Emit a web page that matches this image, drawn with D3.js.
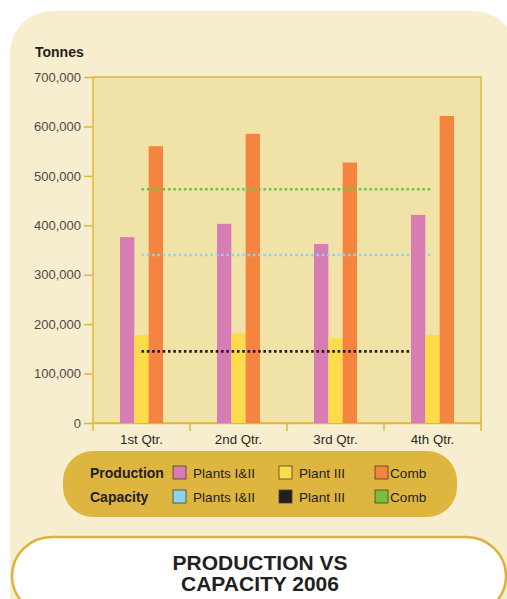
<!DOCTYPE html>
<html>
<head>
<meta charset="utf-8">
<script src="https://cdn.jsdelivr.net/npm/d3@7"></script>
<style>
  body { margin: 0; background: #fff; }
  svg { display: block; font-family: "Liberation Sans", Arial, sans-serif; }
</style>
</head>
<body>
<svg class="chart"></svg>
<script>
// Data
var quarters = ["1st Qtr.", "2nd Qtr.", "3rd Qtr.", "4th Qtr."];
var series = ["Plants I&II", "Plant III", "Comb"];
var prodPlants12 = [376000, 403000, 362000, 421000];
var prodPlant3 = [178000, 182000, 172000, 178000];
var prodComb = [560000, 585000, 527000, 621000];
var capValues = [340000, 145000, 473000];   // Plants I&II, Plant III, Comb
var yTicks = [0, 100000, 200000, 300000, 400000, 500000, 600000, 700000];

var prodColors = ["#d77db4", "#fddc4c", "#f4843f"];
var capColors = ["#8dd4ee", "#231f20", "#79bf3f"];

var W = 507, H = 599;
var margin = {top: 77, right: 26, bottom: 176, left: 93},
  width = W - margin.left - margin.right,
  height = H - margin.top - margin.bottom;

var svg = d3.select(".chart").attr("width", W).attr("height", H);

// outer cream panel
svg.append("rect")
  .attr("x", 10).attr("y", 11)
  .attr("width", 506).attr("height", 680)
  .attr("rx", 42)
  .attr("fill", "#f6eece");

var body = svg.append("g")
  .attr("transform", "translate(" + margin.left + "," + margin.top + ")");

var x0 = d3.scaleBand().domain(quarters).range([0, width]).padding(0);
var x1 = d3.scaleBand().domain(series)
  .range([(x0.bandwidth() - 43) / 2, (x0.bandwidth() + 43) / 2]);
var y = d3.scaleLinear().domain([0, 700000]).range([height, 0]);

// plot background
body.append("rect")
  .attr("width", width).attr("height", height)
  .attr("fill", "#f1e2a8")
  .attr("stroke", "#e2b63c").attr("stroke-width", 1.5);

// y axis
var yAxis = body.append("g")
  .call(d3.axisLeft(y).tickValues(yTicks).tickSize(9).tickPadding(3)
    .tickFormat(d3.format(",")));
yAxis.select(".domain").remove();
yAxis.selectAll(".tick line").attr("stroke", "#e2b63c").attr("stroke-width", 1.5);
yAxis.selectAll(".tick text")
  .attr("fill", "#4d4a45").style("font-size", "13px");

// x axis
var xAxis = body.append("g")
  .attr("transform", "translate(0," + height + ")")
  .call(d3.axisBottom(x0).tickSize(0).tickPadding(12));
xAxis.select(".domain").attr("stroke", "#e2b63c").attr("stroke-width", 1.5);
xAxis.selectAll(".tick text").attr("fill", "#2b2727").style("font-size", "13.3px");
// boundary ticks between categories
body.append("g").selectAll("line")
  .data(d3.range(quarters.length + 1))
  .join("line")
  .attr("x1", function(i) { return i * x0.bandwidth(); })
  .attr("x2", function(i) { return i * x0.bandwidth(); })
  .attr("y1", height).attr("y2", height + 8)
  .attr("stroke", "#e2b63c").attr("stroke-width", 1.5);

// build rows for the bars
var rows = quarters.map(function(q, i) {
  return {q: q, vals: [prodPlants12[i], prodPlant3[i], prodComb[i]]};
});

var groups = body.selectAll("g.qtr")
  .data(rows)
  .join("g")
  .attr("class", "qtr")
  .attr("transform", function(d) { return "translate(" + x0(d.q) + ",0)"; });

groups.selectAll("rect")
  .data(function(d) { return d.vals.map(function(v, j) { return {s: series[j], v: v, j: j}; }); })
  .join("rect")
  .attr("x", function(d) { return x1(d.s); })
  .attr("width", x1.bandwidth())
  .attr("y", function(d) { return y(d.v); })
  .attr("height", function(d) { return height - y(d.v); })
  .attr("fill", function(d) { return prodColors[d.j]; });

// capacity lines from first to last quarter centre
var cx0 = x0(quarters[0]) + x0.bandwidth() / 2,
  cx1 = x0(quarters[quarters.length - 1]) + x0.bandwidth() / 2;
body.append("g").selectAll("line")
  .data(capValues)
  .join("line")
  .attr("x1", cx0).attr("x2", cx1)
  .attr("y1", function(d) { return y(d); })
  .attr("y2", function(d) { return y(d); })
  .attr("stroke", function(d, i) { return capColors[i]; })
  .attr("stroke-width", 2.6)
  .attr("stroke-dasharray", "2.6,2.7");

// last quarter's bars sit above the lines
groups.filter(function(d, i) { return i === quarters.length - 1; }).raise();

// y title
svg.append("text")
  .attr("x", 35).attr("y", 57)
  .attr("font-weight", "bold").style("font-size", "14px")
  .attr("fill", "#231f20")
  .text("Tonnes");

// legend
var legend = svg.append("g");
legend.append("rect")
  .attr("x", 63).attr("y", 451)
  .attr("width", 394).attr("height", 66)
  .attr("rx", 30)
  .attr("fill", "#deb53f");

var legendRows = [
  {name: "Production", colors: prodColors, y: 478},
  {name: "Capacity", colors: capColors, y: 502}
];
var swatchX = [173, 279, 375];
var labelX = [193, 299, 390];

legendRows.forEach(function(r) {
  legend.append("text")
    .attr("x", 90).attr("y", r.y)
    .attr("font-weight", "bold").style("font-size", "14px")
    .attr("fill", "#231f20")
    .text(r.name);
  series.forEach(function(s, j) {
    legend.append("text")
      .attr("x", labelX[j]).attr("y", r.y)
      .style("font-size", "13.6px")
      .attr("fill", "#231f20")
      .text(s);
    legend.append("rect")
      .attr("x", swatchX[j]).attr("y", r.y - 12)
      .attr("width", 13).attr("height", 13)
      .attr("fill", r.colors[j])
      .attr("stroke", "#4a3f2a").attr("stroke-width", 0.8);
  });
});

// title box
svg.append("rect")
  .attr("x", 12).attr("y", 537)
  .attr("width", 494).attr("height", 78)
  .attr("rx", 40)
  .attr("fill", "#ffffff")
  .attr("stroke", "#ddb23c").attr("stroke-width", 2.5);

svg.append("text")
  .attr("text-anchor", "middle")
  .attr("font-weight", "bold").style("font-size", "21px")
  .attr("fill", "#231f20")
  .selectAll("tspan")
  .data(["PRODUCTION VS", "CAPACITY 2006"])
  .join("tspan")
  .attr("x", 260)
  .attr("y", function(d, i) { return 570 + i * 21; })
  .text(function(d) { return d; });
</script>
</body>
</html>
